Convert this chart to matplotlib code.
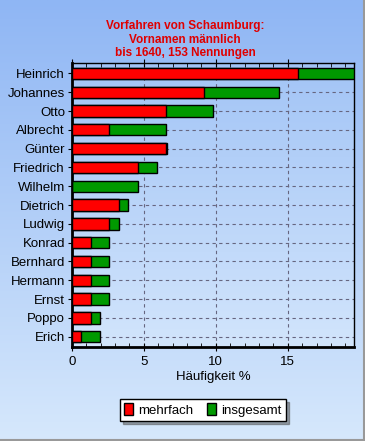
import numpy as np
import matplotlib.pyplot as plt
from matplotlib.colors import LinearSegmentedColormap

plt.rcParams['font.family'] = ['Liberation Sans', 'DejaVu Sans']

names = ["Heinrich", "Johannes", "Otto", "Albrecht", "Günter", "Friedrich",
         "Wilhelm", "Dietrich", "Ludwig", "Konrad", "Bernhard", "Hermann",
         "Ernst", "Poppo", "Erich"]
# percent of 153 mentions
mehrfach = [15.69, 9.15, 6.54, 2.61, 6.54, 4.58, 0.0, 3.27, 2.61, 1.31, 1.31, 1.31, 1.31, 1.31, 0.65]
insgesamt = [19.61, 14.38, 9.80, 6.54, 6.60, 5.88, 4.58, 3.92, 3.27, 2.61, 2.61, 2.61, 2.61, 1.96, 1.96]
xticks = [0, 5, 10, 15]

fig = plt.figure(figsize=(3.65, 4.41), dpi=100)

# background gradient over whole figure
bg = fig.add_axes([0, 0, 1, 1], zorder=-10)
grad = LinearSegmentedColormap.from_list("bg", ["#8fb6f4", "#d6e8fc"])
bg.imshow(np.linspace(0, 1, 256).reshape(-1, 1), aspect="auto", cmap=grad,
          extent=[0, 1, 0, 1])
bg.plot([0.997, 0.997], [0, 1], color="#999999", lw=1.5)
bg.plot([0, 1], [0.003, 0.003], color="#999999", lw=1.5)
bg.set_xlim(0, 1)
bg.set_ylim(0, 1)
bg.axis("off")

ax = fig.add_axes([0.197, 0.213, 0.773, 0.644])
ax.set_facecolor("none")
y = np.arange(len(names))
ax.imshow(np.linspace(0, 1, 256).reshape(-1, 1), aspect="auto",
          cmap=LinearSegmentedColormap.from_list("pl", ["#a2c4f6", "#d2e5fc"]),
          extent=[0, 19.6, 14.55, -0.55], zorder=0)

ax.barh(y, insgesamt, height=0.6, color="#009900", edgecolor="black", lw=1, zorder=3)
ax.barh(y, mehrfach, height=0.6, color="#ff0000", edgecolor="black", lw=1, zorder=4)

ax.set_xlim(0, 19.6)
ax.set_ylim(14.55, -0.55)
ax.set_yticks(y)
ax.set_yticklabels(names, fontsize=9.5)
ax.set_xticks(xticks)
ax.set_xticks(np.arange(0, 20, 1), minor=True)
ax.tick_params(axis="x", which="major", direction="inout", length=6, labelsize=9.5, top=True)
ax.tick_params(axis="x", which="minor", direction="in", length=3, top=True)
ax.tick_params(axis="y", direction="out", length=3, pad=2)
ax.grid(True, axis="both", linestyle=(0, (3, 3)), color="#666680", lw=0.8, zorder=1)
ax.set_axisbelow(True)
for s in ["left", "bottom"]:
    ax.spines[s].set_linewidth(2)
for s in ["top", "right"]:
    ax.spines[s].set_linewidth(1)
ax.set_xlabel("Häufigkeit %", fontsize=9.5, labelpad=2)

fig.text(0.507, 0.955, "Vorfahren von Schaumburg:\nVornamen männlich\nbis 1640, 153 Nennungen",
         ha="center", va="top", color="#e00000", fontsize=8.5, fontweight="bold",
         linespacing=1.2)

# legend with shadow
leg = fig.legend(handles=[plt.Rectangle((0, 0), 1, 1, fc="#ff0000", ec="black"),
                          plt.Rectangle((0, 0), 1, 1, fc="#009900", ec="black")],
                 labels=["mehrfach", "insgesamt"], loc="center",
                 bbox_to_anchor=(0.556, 0.07), ncol=2, fontsize=9.5,
                 frameon=True, fancybox=False, shadow=True, edgecolor="black",
                 handlelength=0.7, handleheight=1.0, handletextpad=0.4,
                 columnspacing=1.0, borderpad=0.3, borderaxespad=0)
leg.get_frame().set_linewidth(1)

fig.savefig("out.png", dpi=100)
